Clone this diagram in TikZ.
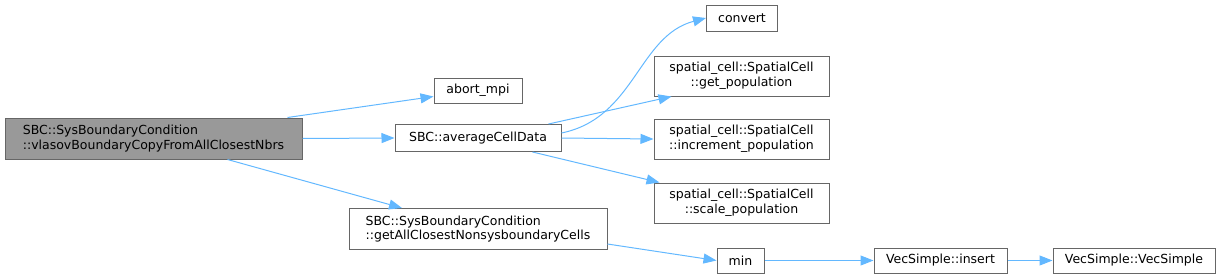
\documentclass[tikz,border=0pt]{standalone}
\usepackage{fontspec}
\setmainfont{DejaVu Sans}
\usepackage{xcolor}
\usetikzlibrary{arrows.meta}

\definecolor{edgeblue}{HTML}{63B8FF}
\definecolor{boxgray}{HTML}{666666}
\definecolor{mainfill}{HTML}{999999}

\begin{document}
\begin{tikzpicture}[x=1pt, y=-1pt,
    box/.style={draw=boxgray, fill=white, line width=1pt, inner sep=0pt,
                font=\fontsize{12.5}{14.6}\selectfont, align=center, minimum height=25pt},
    dbox/.style={box, minimum height=41pt},
    arrow/.style={draw=edgeblue, line width=1pt, -{Triangle[length=13pt, width=10pt]}}
  ]
    \useasboundingbox (0,0) rectangle (1232,279);
    % caller and first level
    \node[dbox, fill=mainfill, minimum width=297pt, align=left] (vlasov) at (153.5,138.5)
      {SBC::SysBoundaryCondition\\::vlasovBoundaryCopyFromAllClosestNbrs};
    \node[box, minimum width=88pt] (abort) at (478,90.5) {abort\_mpi};
    \node[box, minimum width=166pt, minimum height=27pt] (average) at (478,138) {SBC::averageCellData};
    \node[dbox, minimum width=258pt, align=left] (closest) at (478,229)
      {SBC::SysBoundaryCondition\\::getAllClosestNonsysboundaryCells};
    % second level
    \node[box, minimum width=71pt, minimum height=26pt] (convert) at (742,18) {convert};
    \node[dbox, minimum width=175pt, minimum height=40pt] (getpop) at (741.5,76) {spatial\_cell::SpatialCell\\::get\_population};
    \node[dbox, minimum width=175pt, minimum height=40pt] (incpop) at (741.5,139) {spatial\_cell::SpatialCell\\::increment\_population};
    \node[dbox, minimum width=175pt, minimum height=40pt] (scalepop) at (741.5,203) {spatial\_cell::SpatialCell\\::scale\_population};
    \node[box, minimum width=47pt] (min) at (740.5,260.5) {min};
    \node[box, minimum width=133pt] (insert) at (940.5,260.5) {VecSimple::insert};
    \node[box, minimum width=162pt] (vecsimple) at (1134,260.5) {VecSimple::VecSimple};
    % calls
    \draw[arrow] ([xshift=-15pt]vlasov.north east) -- ([yshift=-6pt]abort.west);
    \draw[arrow] (vlasov.east) -- (average.west);
    \draw[arrow] ([xshift=74pt]vlasov.south) -- ([xshift=-76pt]closest.north);
    \draw[arrow] ([yshift=5pt]average.east) .. controls (635,118) and (638,36) .. (convert.west);
    \draw[arrow] ([xshift=-13pt]average.north east) -- ([xshift=-70pt]getpop.south);
    \draw[arrow] (average.east) -- (incpop.west);
    \draw[arrow] ([xshift=-29pt]average.south east) -- ([xshift=6pt]scalepop.north west);
    \draw[arrow] ([yshift=-15pt]closest.east) -- (min.west);
    \draw[arrow] (min) -- (insert);
    \draw[arrow] (insert) -- (vecsimple);
  \end{tikzpicture}
\end{document}
